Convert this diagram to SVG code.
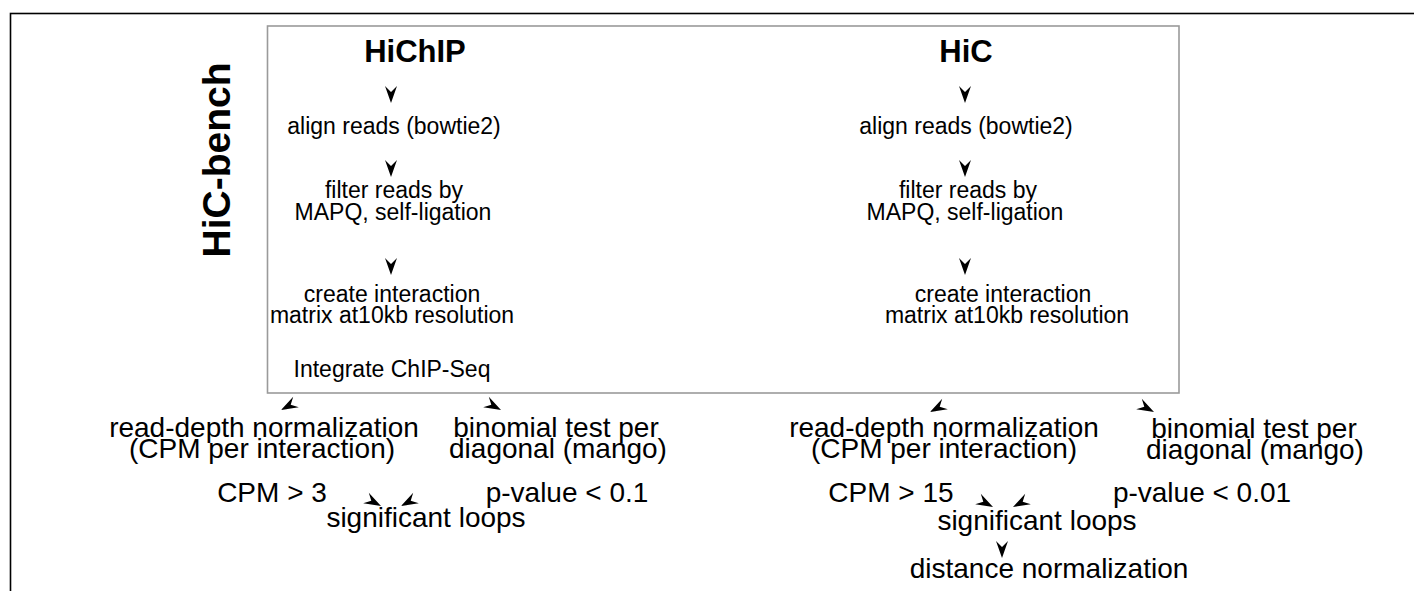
<svg xmlns="http://www.w3.org/2000/svg" width="1414" height="591" viewBox="0 0 1414 591">
  <defs>
    <!-- barbed arrowhead, tip at origin, pointing along +x -->
    <path id="head" d="M0,0 L-17,-6 L-11,0 L-17,6 Z"/>
  </defs>
  <style>
    text { font-family: "Liberation Sans", Arial, sans-serif; fill: #000; text-anchor: middle; }
    .title { font-weight: bold; font-size: 31px; }
    .side { font-weight: bold; font-size: 39px; }
    .step { font-size: 23px; }
    .res { font-size: 28px; }
    .head { fill: #000; }
  </style>
  <rect width="1414" height="591" fill="#fff"/>

  <!-- outer frame (continues past the right and bottom edges) -->
  <rect x="10.5" y="13.5" width="1500" height="700" fill="none" stroke="#000" stroke-width="1.6"/>

  <!-- side label -->
  <text class="side" transform="translate(230,160) rotate(-90)">HiC-bench</text>

  <!-- pipeline box -->
  <g id="pipeline-box">
    <rect x="267.5" y="26" width="911.5" height="367" fill="none" stroke="#9a9a9a" stroke-width="1.6"/>
  </g>

  <!-- HiChIP column -->
  <g id="hichip-title"><text class="title" x="415" y="62">HiChIP</text></g>
  <g id="hichip-align"><text class="step" x="394" y="134">align reads (bowtie2)</text></g>
  <g id="hichip-filter">
    <text class="step" x="394" y="198">filter reads by</text>
    <text class="step" x="393" y="220">MAPQ, self-ligation</text>
  </g>
  <g id="hichip-matrix">
    <text class="step" x="392" y="302">create interaction</text>
    <text class="step" x="392" y="323">matrix at10kb resolution</text>
  </g>
  <g id="hichip-chip"><text class="step" x="392" y="377">Integrate ChIP-Seq</text></g>

  <!-- HiC column -->
  <g id="hic-title"><text class="title" x="966" y="62">HiC</text></g>
  <g id="hic-align"><text class="step" x="966" y="134">align reads (bowtie2)</text></g>
  <g id="hic-filter">
    <text class="step" x="968" y="198">filter reads by</text>
    <text class="step" x="965" y="220">MAPQ, self-ligation</text>
  </g>
  <g id="hic-matrix">
    <text class="step" x="1003" y="302">create interaction</text>
    <text class="step" x="1007" y="323">matrix at10kb resolution</text>
  </g>

  <!-- HiChIP results -->
  <g id="hichip-cpm">
    <text class="res" x="264" y="437">read-depth normalization</text>
    <text class="res" x="262" y="458">(CPM per interaction)</text>
  </g>
  <g id="hichip-binom">
    <text class="res" x="556" y="437">binomial test per</text>
    <text class="res" x="558" y="458">diagonal (mango)</text>
  </g>
  <g id="hichip-cpm-cut"><text class="res" x="272" y="502">CPM &gt; 3</text></g>
  <g id="hichip-p-cut"><text class="res" x="567" y="502">p-value &lt; 0.1</text></g>
  <g id="hichip-loops"><text class="res" x="426" y="527">significant loops</text></g>

  <!-- HiC results -->
  <g id="hic-cpm">
    <text class="res" x="944" y="437">read-depth normalization</text>
    <text class="res" x="944" y="458">(CPM per interaction)</text>
  </g>
  <g id="hic-binom">
    <text class="res" x="1254" y="438">binomial test per</text>
    <text class="res" x="1255" y="459">diagonal (mango)</text>
  </g>
  <g id="hic-cpm-cut"><text class="res" x="891" y="502">CPM &gt; 15</text></g>
  <g id="hic-p-cut"><text class="res" x="1202" y="502">p-value &lt; 0.01</text></g>
  <g id="hic-loops"><text class="res" x="1037" y="530">significant loops</text></g>
  <g id="hic-distance"><text class="res" x="1049" y="578">distance normalization</text></g>

  <!-- connectors: arrowheads only -->
  <g id="connectors" class="head">
    <use href="#head" transform="translate(391,103) rotate(90)"/>
    <use href="#head" transform="translate(391,177) rotate(90)"/>
    <use href="#head" transform="translate(391,275) rotate(90)"/>
    <use href="#head" transform="translate(965,103) rotate(90)"/>
    <use href="#head" transform="translate(965,177) rotate(90)"/>
    <use href="#head" transform="translate(965,275) rotate(90)"/>

    <use href="#head" transform="translate(281,410) rotate(152)"/>
    <use href="#head" transform="translate(501,410) rotate(28)"/>
    <use href="#head" transform="translate(381,506) rotate(28)"/>
    <use href="#head" transform="translate(401,506) rotate(152)"/>

    <use href="#head" transform="translate(930,412) rotate(152)"/>
    <use href="#head" transform="translate(1154,412) rotate(28)"/>
    <use href="#head" transform="translate(993,507) rotate(28)"/>
    <use href="#head" transform="translate(1013,507) rotate(152)"/>
    <use href="#head" transform="translate(1002,558) rotate(90)"/>
  </g>
</svg>
